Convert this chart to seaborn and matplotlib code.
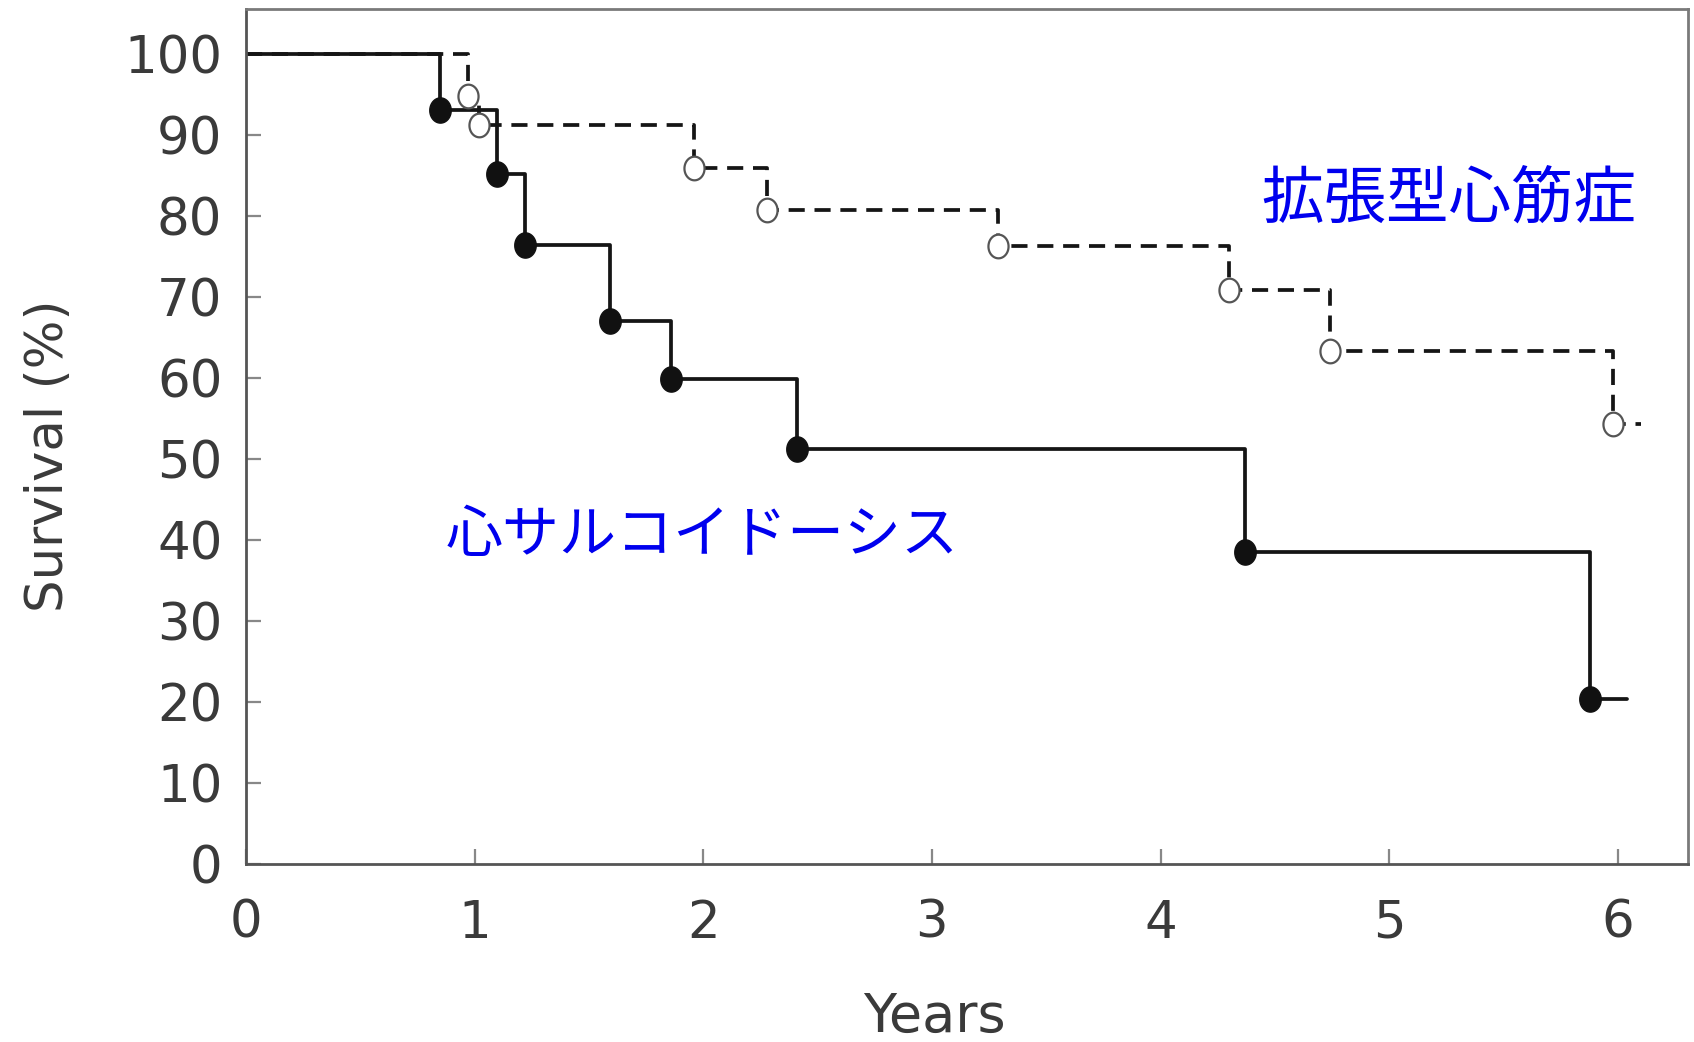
import numpy as np
import pandas as pd
import matplotlib
matplotlib.use("Agg")
import matplotlib.pyplot as plt
from matplotlib.path import Path
import seaborn as sns

# ---- data ----
sarc_years = [0, 0.85, 1.10, 1.22, 1.59, 1.86, 2.41, 4.37, 5.88, 6.04]
sarc_surv = [100, 93.1, 85.2, 76.4, 67.1, 59.9, 51.3, 38.5, 20.4, 20.4]
dcm_years = [0, 0.97, 1.02, 1.96, 2.28, 3.29, 4.30, 4.74, 5.98, 6.10]
dcm_surv = [100, 94.9, 91.3, 86.0, 80.8, 76.3, 70.9, 63.3, 54.3, 54.3]
x_ticks = [0, 1, 2, 3, 4, 5, 6]
y_ticks = [0, 10, 20, 30, 40, 50, 60, 70, 80, 90, 100]
label_sarc = "心サルコイドーシス"
label_dcm = "拡張型心筋症"
x_label = "Years"
y_label = "Survival (%)"

sns.set_theme(style="white")
plt.rcParams["font.family"] = ["DejaVu Sans", "Noto Sans CJK JP"]

fig = plt.figure(figsize=(16.94, 10.42), dpi=100)
ax = fig.add_axes([0.1452, 0.1708, 0.8513, 0.8206])

sarc = pd.DataFrame({"years": sarc_years, "surv": sarc_surv})
dcm = pd.DataFrame({"years": dcm_years, "surv": dcm_surv})

sns.lineplot(data=sarc, x="years", y="surv", drawstyle="steps-post",
             color="#151515", linewidth=2.7, estimator=None, sort=False, ax=ax)
sns.lineplot(data=dcm, x="years", y="surv", drawstyle="steps-post",
             color="#151515", linewidth=2.7, estimator=None, sort=False, ax=ax)
ax.lines[-1].set_dashes((4.3, 2.6))

# slightly tall oval marker, as in the scanned figure
theta = np.linspace(0, 2 * np.pi, 60)
oval = Path(np.column_stack([np.cos(theta) * 0.85, np.sin(theta)]), closed=True)

sns.scatterplot(data=sarc.iloc[1:-1], x="years", y="surv", s=330, marker=oval,
                color="#111111", edgecolor="#111111", linewidth=1, zorder=4, ax=ax)
sns.scatterplot(data=dcm.iloc[1:-1], x="years", y="surv", s=290, marker=oval,
                color="white", edgecolor="#555555", linewidth=1.6, zorder=4, ax=ax)

ax.set_xlim(0, 6.307)
ax.set_ylim(0, 105.6)
ax.set_xticks(x_ticks)
ax.set_yticks(y_ticks)
ax.set_xticklabels([str(v) for v in x_ticks])
ax.set_yticklabels([str(v) for v in y_ticks])

for side, sp in ax.spines.items():
    sp.set_visible(True)
    sp.set_color("#555555" if side in ("left", "bottom") else "#7a7a7a")
    sp.set_linewidth(2.0)

ax.tick_params(axis="both", direction="in", length=11, width=1.6, color="#888888",
               labelsize=37, labelcolor="#3a3a3a", bottom=True, left=True,
               top=False, right=False)
ax.tick_params(axis="x", pad=25)
ax.tick_params(axis="y", pad=17)

ax.set_xlabel(x_label, fontsize=39, color="#3a3a3a")
ax.xaxis.set_label_coords(0.4775, -0.148)
ax.set_ylabel(y_label, fontsize=37, color="#3a3a3a", labelpad=36)
ax.yaxis.label.set_y(0.477)

ax.text(4.44, 82.0, label_dcm, color="#0000ee", fontsize=45, va="center", ha="left",
        family=["Noto Sans CJK JP"])
ax.text(0.875, 40.5, label_sarc, color="#0000ee", fontsize=41, va="center", ha="left",
        family=["Noto Sans CJK JP"])

fig.savefig("out.png", dpi=100, facecolor="white")
